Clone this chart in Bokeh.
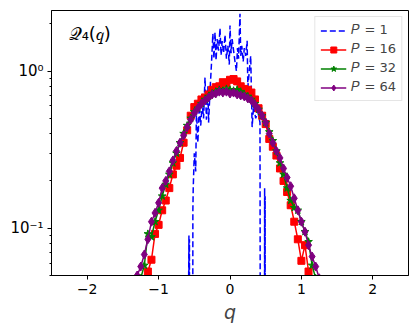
from bokeh.plotting import figure
from bokeh.models import Range1d, FixedTicker, Label, Legend, LegendItem
from bokeh.embed import file_html
from bokeh.resources import INLINE

# ---------------- data ----------------
q1 = [-0.620, -0.575, -0.572, -0.568, -0.565, -0.560, -0.525, -0.520, -0.515, -0.500,
      -0.480, -0.470, -0.450, -0.430, -0.410, -0.390, -0.370, -0.350, -0.330, -0.310,
      -0.300, -0.280, -0.260, -0.240, -0.225, -0.210, -0.195, -0.180, -0.160, -0.140,
      -0.125, -0.110, -0.090, -0.070, -0.050, -0.030, -0.010, 0.000, 0.015, 0.030,
      0.050, 0.070, 0.090, 0.105, 0.120, 0.140, 0.150, 0.165, 0.185, 0.200,
      0.220, 0.240, 0.250, 0.270, 0.290, 0.310, 0.330, 0.360, 0.390, 0.420,
      0.430, 0.480, 0.485, 0.488, 0.492, 0.495, 0.500, 0.540]
y1 = [0.0001, 0.090, 0.0001, 0.085, 0.0001, 0.0001, 0.0001, 0.13, 0.18, 0.30,
      0.23, 0.56, 0.35, 0.60, 0.45, 0.62, 0.50, 0.91, 0.49, 0.80,
      0.47, 0.75, 1.10, 1.73, 1.20, 1.76, 1.17, 1.60, 1.35, 1.87,
      1.26, 1.55, 1.30, 1.70, 1.20, 1.45, 1.10, 1.95, 1.30, 1.60,
      1.35, 1.15, 1.00, 1.40, 1.20, 2.32, 1.25, 1.45, 1.15, 1.40,
      1.25, 1.56, 0.79, 1.00, 1.25, 0.44, 0.60, 0.50, 0.55, 0.47,
      0.0001, 0.0001, 0.18, 0.0001, 0.16, 0.0001, 0.0001, 0.0001]

q16 = [-1.20, -1.15, -1.10, -1.05, -1.00, -0.95, -0.90, -0.85, -0.80, -0.75,
       -0.70, -0.65, -0.60, -0.55, -0.50, -0.45, -0.40, -0.35, -0.30, -0.25,
       -0.20, -0.15, -0.10, -0.05, 0.00, 0.05, 0.10, 0.15, 0.20, 0.25,
       0.30, 0.35, 0.40, 0.45, 0.50, 0.55, 0.60, 0.65, 0.70, 0.75,
       0.80, 0.85, 0.90, 0.95, 1.00, 1.05, 1.10, 1.15]
y16 = [0.046, 0.053, 0.063, 0.092, 0.105, 0.13, 0.15, 0.18, 0.22, 0.25,
       0.28, 0.35, 0.42, 0.52, 0.59, 0.62, 0.66, 0.68, 0.71, 0.76,
       0.79, 0.80, 0.85, 0.84, 0.88, 0.89, 0.86, 0.80, 0.77, 0.76,
       0.73, 0.66, 0.58, 0.52, 0.46, 0.37, 0.33, 0.29, 0.24, 0.20,
       0.17, 0.14, 0.11, 0.085, 0.062, 0.078, 0.053, 0.042]

q32 = [-1.25, -1.20, -1.15, -1.10, -1.05, -1.00, -0.95, -0.90, -0.85, -0.80,
       -0.75, -0.70, -0.65, -0.60, -0.55, -0.50, -0.45, -0.40, -0.35, -0.30,
       -0.25, -0.20, -0.15, -0.10, -0.05, 0.00, 0.05, 0.10, 0.15, 0.20,
       0.25, 0.30, 0.35, 0.40, 0.45, 0.50, 0.55, 0.60, 0.65, 0.70,
       0.75, 0.80, 0.85, 0.90, 0.95, 1.00, 1.05, 1.10, 1.15, 1.20]
y32 = [0.048, 0.058, 0.092, 0.088, 0.11, 0.13, 0.16, 0.19, 0.22, 0.26,
       0.30, 0.35, 0.40, 0.45, 0.50, 0.55, 0.58, 0.62, 0.66, 0.69,
       0.72, 0.74, 0.76, 0.75, 0.77, 0.76, 0.75, 0.76, 0.74, 0.71,
       0.69, 0.66, 0.62, 0.57, 0.52, 0.47, 0.41, 0.36, 0.31, 0.26,
       0.22, 0.18, 0.15, 0.135, 0.13, 0.11, 0.095, 0.082, 0.058, 0.048]

q64 = [-1.30, -1.25, -1.20, -1.15, -1.10, -1.05, -1.00, -0.95, -0.90, -0.85,
       -0.80, -0.75, -0.70, -0.65, -0.60, -0.55, -0.50, -0.45, -0.40, -0.35,
       -0.30, -0.25, -0.20, -0.15, -0.10, -0.05, 0.00, 0.05, 0.10, 0.15,
       0.20, 0.25, 0.30, 0.35, 0.40, 0.45, 0.50, 0.55, 0.60, 0.65,
       0.70, 0.75, 0.80, 0.85, 0.90, 0.95, 1.00, 1.05, 1.10, 1.15,
       1.20, 1.25]
y64 = [0.050, 0.057, 0.068, 0.085, 0.11, 0.125, 0.145, 0.18, 0.20, 0.23,
       0.27, 0.31, 0.35, 0.39, 0.44, 0.49, 0.54, 0.58, 0.62, 0.65,
       0.68, 0.71, 0.72, 0.74, 0.73, 0.74, 0.72, 0.73, 0.71, 0.70,
       0.69, 0.67, 0.65, 0.61, 0.57, 0.52, 0.47, 0.40, 0.35, 0.31,
       0.28, 0.24, 0.21, 0.185, 0.155, 0.13, 0.11, 0.095, 0.078, 0.066,
       0.057, 0.048]

legend_labels = ["𝑃 = 1", "𝑃 = 16", "𝑃 = 32", "𝑃 = 64"]
x_ticks = [-2, -1, 0, 1, 2]
x_tick_labels = ["−2", "−1", "0", "1", "2"]
y_ticks = [0.1, 1.0]
y_tick_labels = ["10⁻¹", "10⁰"]
y_minor = [0.05, 0.06, 0.07, 0.08, 0.09, 0.2, 0.3, 0.4, 0.5, 0.6, 0.7, 0.8, 0.9, 2.0]

FONT = "DejaVu Sans"

p = figure(width=411, height=325, y_axis_type="log",
           x_range=Range1d(-2.5, 2.5), y_range=Range1d(0.05, 2.43),
           output_backend="svg", toolbar_location=None,
           min_border_left=51, min_border_right=3, min_border_top=10,
           min_border_bottom=49)
p.grid.visible = False
p.outline_line_color = "black"
p.outline_line_width = 1
p.background_fill_color = "white"
p.border_fill_color = "white"

r1 = p.line(q1, y1, line_color="blue", line_width=1.5, line_dash="6 3")

r16l = p.line(q16, y16, line_color="red", line_width=1.5)
r16m = p.scatter(q16, y16, marker="square", size=7, fill_color="red", line_color="red")

r32l = p.line(q32, y32, line_color="green", line_width=1.5)
r32m = p.scatter(q32, y32, marker="star", size=8, fill_color="green", line_color="green")

r64l = p.line(q64, y64, line_color="purple", line_width=1.5)
r64m = p.scatter(q64, y64, marker="diamond", size=9, fill_color="purple", line_color="purple")

# axes
p.xaxis.ticker = FixedTicker(ticks=x_ticks, minor_ticks=[])
p.xaxis.major_label_overrides = dict(zip(x_ticks, x_tick_labels))
p.yaxis.ticker = FixedTicker(ticks=y_ticks, minor_ticks=y_minor)
p.yaxis.major_label_overrides = dict(zip(y_ticks, y_tick_labels))
for ax in (p.xaxis[0], p.yaxis[0]):
    ax.axis_line_color = "black"
    ax.major_tick_line_color = "black"
    ax.minor_tick_line_color = "black"
    ax.major_tick_in = 0
    ax.major_tick_out = 4
    ax.minor_tick_in = 0
    ax.minor_tick_out = 2
    ax.major_label_text_font = FONT
    ax.major_label_text_font_size = "14px"
    ax.major_label_text_color = "black"
    ax.major_label_standoff = 4
p.yaxis.major_label_text_font_size = "15px"
p.xaxis.axis_label = "q"
p.xaxis.axis_label_text_font = FONT
p.xaxis.axis_label_text_font_style = "italic"
p.xaxis.axis_label_text_font_size = "19px"
p.xaxis.axis_label_standoff = 4

# in-plot title
p.add_layout(Label(x=-2.26, y=1.73, text="𝒬₄(𝑞)", text_font=FONT,
                   text_font_size="18px", text_baseline="middle", text_color="black"))

legend = Legend(items=[
    LegendItem(label=legend_labels[0], renderers=[r1]),
    LegendItem(label=legend_labels[1], renderers=[r16l, r16m]),
    LegendItem(label=legend_labels[2], renderers=[r32l, r32m]),
    LegendItem(label=legend_labels[3], renderers=[r64l, r64m]),
], location="top_right")
legend.label_text_font = FONT
legend.label_text_font_size = "13px"
legend.label_height = 15
legend.glyph_height = 15
legend.glyph_width = 26
legend.spacing = 3
legend.padding = 5
legend.margin = 6
legend.border_line_color = "#cccccc"
legend.border_line_width = 1
legend.background_fill_alpha = 0.8
p.add_layout(legend)

open("out.html", "w").write(file_html(p, INLINE))
